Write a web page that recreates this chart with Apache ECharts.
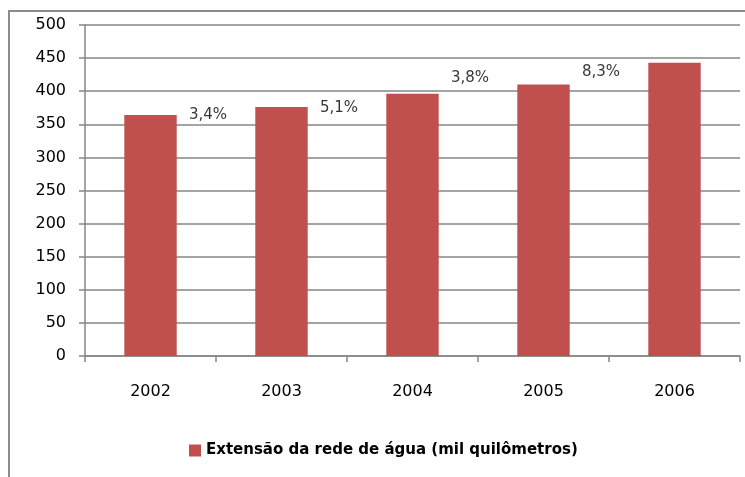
<!DOCTYPE html>
<html>
<head>
    <meta charset="utf-8">
    <title>Extensão da rede de água</title>
    <script src="https://cdn.jsdelivr.net/npm/echarts@6/dist/echarts.min.js"></script>
    <style>
        html, body { margin: 0; padding: 0; background: #fff; overflow: hidden; }
        #main { width: 745px; height: 477px; }
    </style>
</head>
<body>
<div id="main"></div>
<script type="text/javascript">
    // dados
    var anos = ['2002', '2003', '2004', '2005', '2006'];
    var extensao = [364, 376, 396, 410, 443];
    // rótulos de crescimento entre as barras
    var crescimento = ['3,4%', '5,1%', '3,8%', '8,3%'];
    var crescimentoY = [364, 374, 420, 429];
    var yTicks = [0, 50, 100, 150, 200, 250, 300, 350, 400, 450, 500];

    var corBarra = '#C0504D';
    var corEixo = '#868686';
    var fonte = 'DejaVu Sans';

    var pontos = [];
    for (var i = 0; i < crescimento.length; i++) {
        pontos.push({ value: [i + 1, crescimentoY[i]], label: { formatter: crescimento[i] } });
    }

    var myChart = echarts.init(document.getElementById('main'));
    var option = {
        backgroundColor: '#fff',
        animation: false,
        // moldura do gráfico (só esquerda e topo visíveis)
        graphic: [{
            type: 'polyline',
            silent: true,
            shape: { points: [[9, 480], [9, 11], [750, 11]] },
            style: { stroke: '#8c8c8c', lineWidth: 2, fill: null }
        }],
        grid: { left: 85, right: 5, top: 25, bottom: 121 },
        legend: {
            bottom: 14,
            left: 184,
            icon: 'rect',
            itemWidth: 12,
            itemHeight: 12,
            itemGap: 5,
            data: ['Extensão da rede de água (mil quilômetros)'],
            textStyle: { fontFamily: fonte, fontWeight: 'bold', fontSize: 15, color: '#000' }
        },
        xAxis: [{
            type: 'category',
            data: anos,
            axisLine: { lineStyle: { color: corEixo, width: 1.5 } },
            axisTick: { show: true, length: 6, lineStyle: { color: corEixo, width: 1.5 } },
            axisLabel: { margin: 28, color: '#000', fontFamily: fonte, fontSize: 16 }
        }, {
            type: 'value',
            min: 0,
            max: anos.length,
            show: false
        }],
        yAxis: {
            type: 'value',
            min: yTicks[0],
            max: yTicks[yTicks.length - 1],
            interval: 50,
            axisLine: { show: true, lineStyle: { color: corEixo, width: 1.5 } },
            axisTick: { show: true, length: 6, lineStyle: { color: corEixo, width: 1.5 } },
            splitLine: { lineStyle: { color: corEixo, width: 1.5 } },
            axisLabel: { margin: 19, color: '#000', fontFamily: fonte, fontSize: 16 }
        },
        series: [{
            name: 'Extensão da rede de água (mil quilômetros)',
            type: 'bar',
            barWidth: '40%',
            data: extensao,
            itemStyle: { color: corBarra }
        }, {
            name: 'crescimento',
            type: 'scatter',
            xAxisIndex: 1,
            symbolSize: 1,
            itemStyle: { color: 'rgba(0,0,0,0)' },
            label: {
                show: true,
                position: 'inside',
                offset: [-8, 0],
                color: '#000',
                fontFamily: fonte,
                fontSize: 15
            },
            data: pontos
        }]
    };
    myChart.setOption(option);
</script>
</body>
</html>
